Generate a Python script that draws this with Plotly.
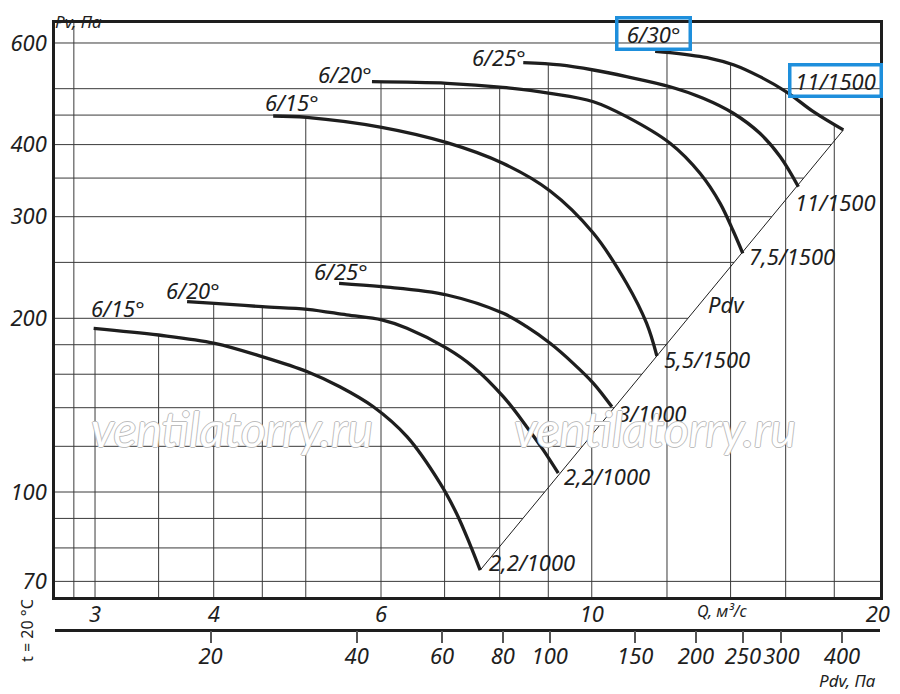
import numpy as np
import plotly.graph_objects as go

# fan curves, Q in m3/s, Pv in Pa
# lower group, 1000 rpm motors
LOW_15_Q = [2.99, 3.50, 4.01, 4.50, 5.02, 5.43, 5.89, 6.39, 6.92, 7.21, 7.44, 7.63]
LOW_15_P = [192.2, 187.1, 181.0, 171.6, 161.6, 152.2, 140.5, 124.7, 103.7, 91.6, 81.3, 73.2]
LOW_20_Q = [3.75, 4.01, 4.50, 5.02, 5.52, 6.01, 6.39, 7.04, 7.50, 8.07, 8.54, 8.89, 9.22]
LOW_20_P = [213.7, 212.3, 209.5, 207.3, 202.7, 198.7, 192.2, 177.4, 164.9, 146.3, 129.8, 118.3, 107.8]
LOW_25_Q = [5.42, 6.01, 7.04, 8.07, 8.54, 9.04, 9.56, 10.04, 10.50]
LOW_25_P = [230.0, 226.9, 219.5, 204.0, 193.4, 181.0, 167.1, 154.3, 140.5]

# upper group, 1500 rpm motors
UP_15_Q = [4.62, 5.01, 6.01, 7.04, 8.06, 9.04, 10.04, 10.88, 11.42, 11.71]
UP_15_P = [448.4, 446.0, 428.6, 403.1, 371.3, 332.4, 280.8, 230.0, 196.1, 172.1]
UP_20_Q = [5.87, 7.04, 8.06, 9.04, 10.04, 10.88, 12.09, 13.00, 13.65, 14.09, 14.42]
UP_20_P = [514.1, 510.8, 502.7, 490.9, 474.7, 447.2, 402.1, 356.7, 316.4, 283.3, 259.2]
UP_25_Q = [8.47, 9.26, 10.04, 10.88, 12.09, 13.10, 14.09, 15.03, 15.79, 16.50]
UP_25_P = [554.6, 549.6, 538.7, 524.6, 503.9, 481.2, 453.3, 418.4, 381.1, 338.1]
UP_30_Q = [11.66, 12.09, 13.32, 14.12, 15.03, 16.04, 17.11, 18.40]
UP_30_P = [580.4, 577.2, 564.4, 549.6, 524.6, 493.4, 456.2, 424.1]

# dynamic pressure line
PDV_Q = [7.63, 18.40]
PDV_P = [73.2, 424.1]

BLADE_LABELS = ["6/15°", "6/20°", "6/25°", "6/15°", "6/20°", "6/25°", "6/30°"]
MOTOR_LABELS = ["2,2/1000", "2,2/1000", "3/1000", "5,5/1500", "7,5/1500", "11/1500", "11/1500"]

Q_TICKS = [3, 4, 6, 10, 20]
P_TICKS = [70, 100, 200, 300, 400, 600]
PDV_TICKS = [20, 40, 60, 80, 100, 150, 200, 250, 300, 400]

GRID_Q = [2.85, 3, 3.5, 4, 4.5, 5, 6, 7, 8, 9, 10, 12, 14, 16, 18]
GRID_P = [70, 80, 90, 100, 120, 140, 160, 180, 200, 250, 300, 350, 400, 450, 500, 600]

FONT = "Noto Sans"
INK = "#1e1e1e"
GRID = "#3a3a3a"
BLUE = "#1e8fdc"

X_RANGE = [0.435, 1.3034]
Y_RANGE = [1.818, 2.8128]
X2_RANGE = [0.9805, 2.6804]

curves = [
    (LOW_15_Q, LOW_15_P),
    (LOW_20_Q, LOW_20_P),
    (LOW_25_Q, LOW_25_P),
    (UP_15_Q, UP_15_P),
    (UP_20_Q, UP_20_P),
    (UP_25_Q, UP_25_P),
    (UP_30_Q, UP_30_P),
]
# label offsets in px: (dx, dy) for start label, (dx, dy) for end label
start_shift = [(24, 20), (6, 12), (2, 12), (19, 14), (-27, 8), (-24, 6), (-2, 18)]
end_shift = [(7, 8), (4, -3), (4, -6), (5, -3), (4, -3), (-5, -15), (-8, 49)]


def envelope(q):
    tops = []
    for cq, cp in curves:
        if cq[0] <= q <= cq[-1]:
            tops.append(10 ** np.interp(np.log10(q), np.log10(cq), np.log10(cp)))
    return max(tops) if tops else 10 ** Y_RANGE[1]


def pdv_q(p):
    lq, lp = np.log10(PDV_Q), np.log10(PDV_P)
    if PDV_P[0] <= p <= PDV_P[1]:
        return 10 ** (lq[0] + (np.log10(p) - lp[0]) * (lq[1] - lq[0]) / (lp[1] - lp[0]))
    return 10 ** X_RANGE[1]


fig = go.Figure()

# grid: vertical lines stop at the top curve, horizontal ones at the Pdv line
gx, gy = [], []
for q in GRID_Q:
    gx += [q, q, None]
    gy += [10 ** Y_RANGE[0], envelope(q), None]
for p in GRID_P:
    gx += [10 ** X_RANGE[0], pdv_q(p), None]
    gy += [p, p, None]
fig.add_trace(go.Scatter(x=gx, y=gy, mode="lines", line=dict(color=GRID, width=1),
                         hoverinfo="skip", showlegend=False))

fig.add_trace(go.Scatter(x=PDV_Q, y=PDV_P, mode="lines", line=dict(color=INK, width=1),
                         hoverinfo="skip", showlegend=False))

for cq, cp in curves:
    fig.add_trace(go.Scatter(x=cq, y=cp, mode="lines", line=dict(color=INK, width=3.3, shape="spline"),
                             showlegend=False))

# dummy trace so the Pdv axis gets drawn
fig.add_trace(go.Scatter(x=[PDV_TICKS[0], PDV_TICKS[-1]], y=[100, 100], xaxis="x2", mode="markers",
                         marker=dict(opacity=0), hoverinfo="skip", showlegend=False))

label_font = dict(family=FONT, size=22, color=INK, style="italic")
small_font = dict(family=FONT, size=17, color=INK, style="italic")
ann = []
for i, (cq, cp) in enumerate(curves):
    dx, dy = start_shift[i]
    ann.append(dict(x=np.log10(cq[0]), y=np.log10(cp[0]), xref="x", yref="y", text=BLADE_LABELS[i],
                    showarrow=False, xanchor="center", yanchor="middle", xshift=dx, yshift=dy,
                    font=label_font))
    dx, dy = end_shift[i]
    ann.append(dict(x=np.log10(cq[-1]), y=np.log10(cp[-1]), xref="x", yref="y", text=MOTOR_LABELS[i],
                    showarrow=False, xanchor="left" if i < 6 else "center", yanchor="middle",
                    xshift=dx, yshift=dy, font=label_font))
# the two top labels are framed in blue
ann[-2].update(bordercolor=BLUE, borderwidth=3.5, borderpad=2, width=66, height=24)
ann[-1].update(bordercolor=BLUE, borderwidth=3.5, borderpad=2, width=84, height=24)

ann += [
    dict(x=0.8145, y=0.576, xref="paper", yref="paper", text="Pdv", showarrow=False,
         xanchor="center", yanchor="middle", font=label_font),
    dict(x=0.0285, y=1.0226, xref="paper", yref="paper", text="Pv, Па", showarrow=False,
         xanchor="center", yanchor="top", font=small_font),
    dict(x=0.8085, y=0.1131, xref="paper", yref="paper", text="Q, м³/с", showarrow=False,
         xanchor="center", yanchor="middle", font=dict(small_font, size=16)),
    dict(x=0.961, y=0.009, xref="paper", yref="paper", text="Pdv, Па", showarrow=False,
         xanchor="center", yanchor="middle", font=small_font),
    dict(x=-0.034, y=0.0845, xref="paper", yref="paper", text="t = 20 °C", showarrow=False,
         xanchor="center", yanchor="middle", textangle=-90,
         font=dict(family=FONT, size=16, color=INK)),
]
wm_font = dict(family="Lato", size=48, color="white", style="italic",
               shadow="1px 0 0 #bdbdbd, -1px 0 0 #bdbdbd, 0 1px 0 #bdbdbd, 0 -1px 0 #bdbdbd")
for wx in [0.2145, 0.727]:
    ann.append(dict(x=wx, y=0.389, xref="paper", yref="paper", text="ventilatorry.ru",
                    showarrow=False, xanchor="center", yanchor="middle", font=wm_font))

tick_font = dict(family=FONT, size=22, color=INK, style="italic")
# the page body adds an 8px margin, so the figure is 8px smaller than the window
fig.update_layout(
    width=892,
    height=686,
    margin=dict(l=47, r=20, t=15, b=8, autoexpand=False),
    paper_bgcolor="white",
    plot_bgcolor="white",
    showlegend=False,
    annotations=ann,
    xaxis=dict(type="log", range=X_RANGE, tickvals=Q_TICKS, ticktext=[str(v) for v in Q_TICKS],
               showgrid=False, zeroline=False, showline=True, mirror=True, linecolor=INK,
               linewidth=2.5, ticks="", tickfont=tick_font, ticklabelstandoff=-4,
               tickangle=0, automargin=False),
    yaxis=dict(type="log", range=Y_RANGE, domain=[0.1342, 1], tickvals=P_TICKS,
               ticktext=[str(v) for v in P_TICKS], showgrid=False, zeroline=False,
               showline=True, mirror=True, linecolor=INK, linewidth=2.5, ticks="",
               tickfont=tick_font, ticklabelstandoff=1, automargin=False),
    xaxis2=dict(type="log", range=X2_RANGE, overlaying="x", anchor="free", position=0.0852,
                side="bottom", tickvals=PDV_TICKS, ticktext=[str(v) for v in PDV_TICKS],
                showgrid=False, zeroline=False, showline=True, linecolor=INK, linewidth=2.5,
                ticks="outside", ticklen=12, tickwidth=1.5, tickcolor="#555",
                tickfont=tick_font, tickangle=0, ticklabelstandoff=-6, automargin=False),
)

fig.write_html("out.html")
